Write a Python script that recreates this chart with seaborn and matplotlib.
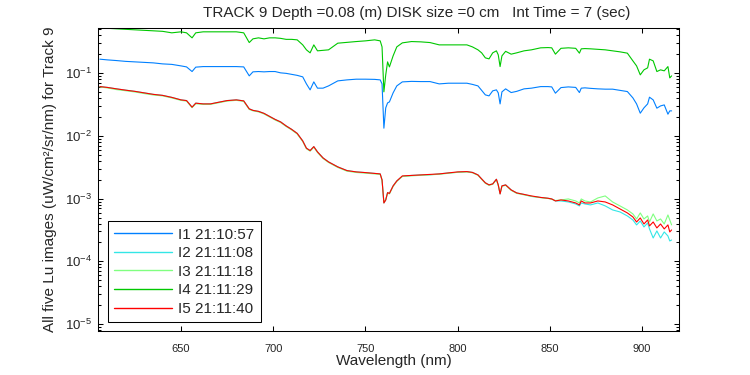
import numpy as np
import pandas as pd
import matplotlib
matplotlib.use("Agg")
import matplotlib.pyplot as plt
import seaborn as sns
from matplotlib.ticker import LogLocator, FixedLocator, FuncFormatter, NullFormatter

# wavelength grid (nm) and log10 of Lu, one list per image
wavelength = [606, 610, 615, 620, 625, 630, 635, 640, 645, 650,
              653, 656, 658, 662, 666, 670, 675, 680, 684, 687,
              689, 692, 695, 698, 701, 704, 707, 710, 713, 716,
              718, 720, 722, 724, 727, 730, 735, 740, 745, 750,
              755, 758, 759, 760, 761, 762, 763, 765, 767, 770,
              775, 780, 785, 790, 795, 800, 805, 808, 811, 813,
              815, 817, 819, 821, 822, 823, 824, 826, 829, 832,
              836, 840, 845, 849, 851, 853, 856, 860, 864, 866,
              867, 869, 872, 876, 880, 884, 888, 892, 895, 897,
              899, 901, 903, 904, 906, 908, 910, 912, 914, 915,
              916]

lu_i1_log10 = [-0.777, -0.788, -0.799, -0.812, -0.820, -0.828, -0.836, -0.852, -0.860, -0.884,
               -0.900, -0.974, -0.904, -0.895, -0.895, -0.895, -0.895, -0.895, -0.900, -1.043,
               -0.979, -0.974, -0.979, -0.974, -0.974, -0.995, -1.003, -1.019, -1.035, -1.059,
               -1.171, -1.266, -1.139, -1.239, -1.239, -1.203, -1.123, -1.107, -1.096, -1.096,
               -1.099, -1.107, -1.171, -1.877, -1.553, -1.474, -1.458, -1.314, -1.203, -1.139,
               -1.131, -1.134, -1.134, -1.171, -1.160, -1.160, -1.160, -1.179, -1.203, -1.274,
               -1.346, -1.362, -1.282, -1.266, -1.314, -1.490, -1.298, -1.250, -1.309, -1.290,
               -1.250, -1.239, -1.214, -1.214, -1.219, -1.319, -1.230, -1.219, -1.227, -1.309,
               -1.239, -1.234, -1.242, -1.250, -1.255, -1.255, -1.274, -1.293, -1.394, -1.490,
               -1.638, -1.553, -1.490, -1.383, -1.426, -1.558, -1.522, -1.506, -1.654, -1.601,
               -1.601]

lu_i2_log10 = [-1.214, -1.227, -1.250, -1.271, -1.290, -1.314, -1.338, -1.354, -1.386, -1.426,
               -1.437, -1.542, -1.478, -1.490, -1.490, -1.466, -1.437, -1.426, -1.442, -1.569,
               -1.593, -1.609, -1.641, -1.689, -1.737, -1.777, -1.841, -1.896, -1.960, -2.080,
               -2.196, -2.234, -2.171, -2.255, -2.351, -2.415, -2.494, -2.553, -2.574, -2.585,
               -2.598, -2.606, -2.702, -3.069, -3.021, -2.904, -2.917, -2.797, -2.718, -2.645,
               -2.630, -2.622, -2.620, -2.606, -2.590, -2.580, -2.569, -2.582, -2.622, -2.686,
               -2.748, -2.781, -2.765, -2.691, -2.781, -2.925, -2.797, -2.781, -2.861, -2.909,
               -2.933, -2.965, -2.981, -2.994, -3.005, -3.037, -3.037, -3.053, -3.085, -3.116,
               -3.069, -3.085, -3.100, -3.069, -3.116, -3.180, -3.212, -3.276, -3.340, -3.419,
               -3.356, -3.451, -3.388, -3.483, -3.627, -3.515, -3.627, -3.531, -3.595, -3.675,
               -3.659]

lu_i3_log10 = [-1.220, -1.235, -1.262, -1.280, -1.300, -1.325, -1.348, -1.362, -1.395, -1.434,
               -1.445, -1.550, -1.488, -1.498, -1.497, -1.474, -1.445, -1.433, -1.450, -1.578,
               -1.600, -1.617, -1.650, -1.698, -1.746, -1.787, -1.850, -1.905, -1.970, -2.090,
               -2.205, -2.243, -2.180, -2.264, -2.360, -2.424, -2.503, -2.562, -2.583, -2.594,
               -2.606, -2.614, -2.710, -3.060, -3.012, -2.912, -2.925, -2.806, -2.726, -2.646,
               -2.637, -2.628, -2.620, -2.612, -2.596, -2.580, -2.575, -2.588, -2.628, -2.692,
               -2.755, -2.788, -2.772, -2.698, -2.788, -2.915, -2.804, -2.788, -2.868, -2.916,
               -2.940, -2.963, -2.985, -2.998, -3.010, -3.030, -3.021, -3.005, -3.037, -3.069,
               -3.005, -3.037, -3.053, -2.989, -2.957, -3.053, -3.116, -3.180, -3.244, -3.324,
               -3.228, -3.324, -3.276, -3.372, -3.244, -3.356, -3.324, -3.404, -3.260, -3.340,
               -3.419]

lu_i4_log10 = [-0.270, -0.285, -0.293, -0.301, -0.309, -0.317, -0.325, -0.333, -0.357, -0.341,
               -0.357, -0.437, -0.357, -0.341, -0.341, -0.341, -0.341, -0.341, -0.357, -0.512,
               -0.453, -0.437, -0.453, -0.437, -0.437, -0.445, -0.461, -0.461, -0.469, -0.549,
               -0.628, -0.676, -0.549, -0.644, -0.636, -0.628, -0.522, -0.509, -0.496, -0.485,
               -0.469, -0.485, -0.581, -1.298, -1.027, -0.820, -0.900, -0.724, -0.581, -0.517,
               -0.496, -0.501, -0.512, -0.549, -0.549, -0.549, -0.549, -0.581, -0.628, -0.676,
               -0.756, -0.772, -0.676, -0.644, -0.708, -0.895, -0.724, -0.652, -0.697, -0.676,
               -0.644, -0.628, -0.596, -0.592, -0.596, -0.697, -0.604, -0.596, -0.604, -0.681,
               -0.612, -0.608, -0.612, -0.620, -0.628, -0.644, -0.660, -0.681, -0.804, -0.884,
               -1.027, -0.947, -0.915, -0.777, -0.804, -0.974, -0.947, -0.963, -0.895, -1.075,
               -1.043]

lu_i5_log10 = [-1.214, -1.227, -1.250, -1.271, -1.290, -1.314, -1.338, -1.354, -1.386, -1.426,
               -1.437, -1.542, -1.478, -1.490, -1.490, -1.466, -1.437, -1.426, -1.442, -1.569,
               -1.593, -1.609, -1.641, -1.689, -1.737, -1.777, -1.841, -1.896, -1.960, -2.080,
               -2.196, -2.234, -2.171, -2.255, -2.351, -2.415, -2.494, -2.553, -2.574, -2.585,
               -2.598, -2.606, -2.702, -3.069, -3.021, -2.904, -2.917, -2.797, -2.718, -2.638,
               -2.630, -2.622, -2.614, -2.606, -2.590, -2.574, -2.569, -2.582, -2.622, -2.686,
               -2.748, -2.781, -2.765, -2.691, -2.781, -2.925, -2.797, -2.781, -2.861, -2.909,
               -2.933, -2.957, -2.981, -2.994, -3.005, -3.037, -3.021, -3.037, -3.069, -3.100,
               -3.037, -3.069, -3.069, -3.037, -3.053, -3.100, -3.164, -3.228, -3.292, -3.372,
               -3.308, -3.404, -3.340, -3.435, -3.372, -3.467, -3.404, -3.483, -3.419, -3.531,
               -3.499]

image_labels = ['I1 21:10:57', 'I2 21:11:08', 'I3 21:11:18', 'I4 21:11:29', 'I5 21:11:40']
line_colors = ['#0080ff', '#33e6e6', '#80ff80', '#00c800', '#ff0000']
x_ticks = [650, 700, 750, 800, 850, 900]

series = [lu_i1_log10, lu_i2_log10, lu_i3_log10, lu_i4_log10, lu_i5_log10]
frames = []
for lab, vals in zip(image_labels, series):
    frames.append(pd.DataFrame({'Wavelength': wavelength,
                                'Lu': 10.0 ** np.array(vals),
                                'Image': lab}))
data = pd.concat(frames, ignore_index=True)

sns.set_style('ticks')
plt.rcParams['font.family'] = ['Liberation Sans', 'DejaVu Sans']
plt.rcParams['mathtext.fontset'] = 'custom'
plt.rcParams['mathtext.rm'] = 'Liberation Sans'
plt.rcParams['mathtext.it'] = 'Liberation Sans:italic'

fig = plt.figure(figsize=(7.5, 3.75), dpi=100)
ax = fig.add_axes([98 / 750, 1 - 331 / 375, 581 / 750, 303 / 375])

palette = dict(zip(image_labels, line_colors))
sns.lineplot(data=data, x='Wavelength', y='Lu', hue='Image',
             palette=palette, linewidth=0.8, errorbar=None, ax=ax)

ax.set_yscale('log')
ax.set_xlim(605, 920)
ax.set_ylim(10 ** -5.11, 10 ** -0.28)
ax.xaxis.set_major_locator(FixedLocator(x_ticks))
ax.yaxis.set_major_locator(LogLocator(base=10, numticks=10))
ax.yaxis.set_minor_locator(LogLocator(base=10, subs=np.arange(2, 10), numticks=20))
ax.yaxis.set_minor_formatter(NullFormatter())
ax.yaxis.set_major_formatter(FuncFormatter(
    lambda v, pos: r'$\mathregular{10^{%d}}$' % int(round(np.log10(v)))))

for s in ax.spines.values():
    s.set_linewidth(0.75)
    s.set_color('black')
ax.tick_params(which='both', direction='in', top=True, right=True,
               width=0.75, color='black')
ax.tick_params(which='major', length=3.6)
ax.tick_params(which='minor', length=2)
ax.tick_params(axis='x', labelsize=8, pad=9)
ax.tick_params(axis='y', labelsize=9.5, pad=4)

ax.set_xlabel('')
ax.set_ylabel('')

handles, labels = ax.get_legend_handles_labels()
leg = ax.legend(handles, labels, loc='lower left', bbox_to_anchor=(0.0172, 0.0297),
                borderaxespad=0, fontsize=11, frameon=True, fancybox=False,
                framealpha=1, edgecolor='black', handlelength=3.8,
                handletextpad=0.4, labelspacing=0.3, borderpad=0.4)
leg.get_frame().set_linewidth(0.75)
for h, lab in zip(leg.get_lines(), labels):
    h.set_color(palette[lab])
    h.set_linewidth(1.0)

fig.text(203 / 750, 1 - 17 / 375,
         'TRACK 9 Depth =0.08 (m) DISK size =0 cm   Int Time = 7 (sec)',
         ha='left', va='baseline', fontsize=11)
fig.text(394 / 750, 1 - 365 / 375, 'Wavelength (nm)',
         ha='center', va='baseline', fontsize=11)
fig.text(50 / 750, 1 - 179.5 / 375,
         'All five Lu images (uW/cm\u00b2/sr/nm) for Track 9',
         rotation=90, ha='center', va='center', fontsize=11)

fig.savefig('out.png', dpi=100)
